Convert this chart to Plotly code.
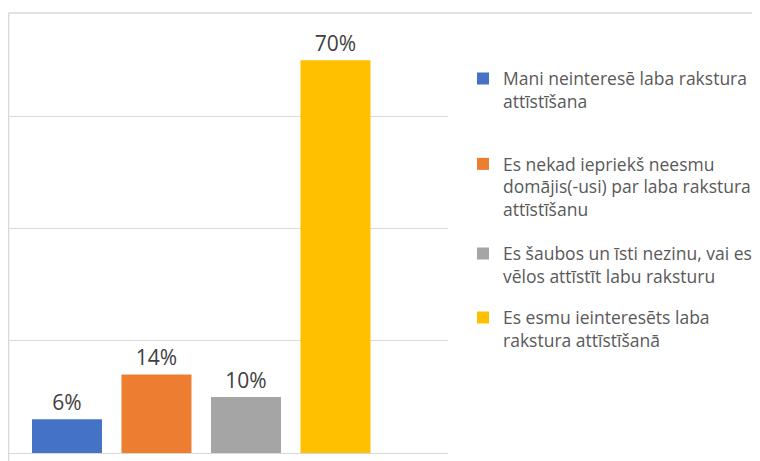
import plotly.graph_objects as go

categories = [
    "Mani neinteresē laba rakstura<br>attīstīšana",
    "Es nekad iepriekš neesmu<br>domājis(-usi) par laba rakstura<br>attīstīšanu",
    "Es šaubos un īsti nezinu, vai es<br>vēlos attīstīt labu raksturu",
    "Es esmu ieinteresēts laba<br>rakstura attīstīšanā",
]
values = [6, 14, 10, 70]
labels = ["6%", "14%", "10%", "70%"]
colors = ["#4472C4", "#ED7D31", "#A5A5A5", "#FFC000"]
positions = [0, 1, 2, 3]

# The page body adds an 8px offset, so the figure is 8px smaller and shifted.
OFF = 8
W, H = 760 - OFF, 461 - OFF
L, R, T, B = 0, 312, 5, 8
plot_h = H - T - B
plot_w = W - L - R
legend_centers_px = [90 - OFF, 187 - OFF, 265 - OFF, 329 - OFF]

fig = go.Figure()
legend_names = ["legend", "legend2", "legend3", "legend4"]
for i in range(4):
    fig.add_trace(go.Bar(
        x=[positions[i]], y=[values[i]], name=categories[i],
        marker=dict(color=colors[i], line=dict(width=0)),
        width=0.782,
        text=[labels[i]], textposition="outside", cliponaxis=False,
        textfont=dict(size=21, color="#404040", family="Open Sans"),
        legend=legend_names[i],
        hoverinfo="skip",
    ))

layout_legends = {}
for i, ln in enumerate(legend_names):
    layout_legends[ln] = dict(
        x=(463 - OFF - L) / plot_w, xanchor="left",
        y=(H - B - legend_centers_px[i]) / plot_h, yanchor="middle",
        font=dict(family="Open Sans", size=17.5, color="#595959"),
        bgcolor="rgba(0,0,0,0)", borderwidth=0, valign="top",
    )

fig.update_layout(
    width=W, height=H,
    margin=dict(l=L, r=R, t=T, b=B, autoexpand=False),
    paper_bgcolor="white", plot_bgcolor="white",
    xaxis=dict(range=[-0.659, 4.257], showticklabels=False, showgrid=False,
               zeroline=False, showline=False, fixedrange=True),
    yaxis=dict(range=[0, 78.4], dtick=20, showticklabels=False, showgrid=True,
               gridcolor="#D9D9D9", gridwidth=1, zeroline=True,
               zerolinecolor="#D9D9D9", zerolinewidth=1, showline=False),
    bargap=0.2, showlegend=True,
    **layout_legends,
)

# frame lines (chart border, cropped)
fig.add_shape(type="line", xref="paper", yref="paper",
              x0=0.6 / plot_w, x1=W / plot_w, y0=1, y1=1,
              line=dict(color="#D9D9D9", width=1.5))
fig.add_shape(type="line", xref="paper", yref="paper",
              x0=0.6 / plot_w, x1=0.6 / plot_w, y0=-B / plot_h, y1=1,
              line=dict(color="#D9D9D9", width=1.5))

fig.write_html("out.html")
